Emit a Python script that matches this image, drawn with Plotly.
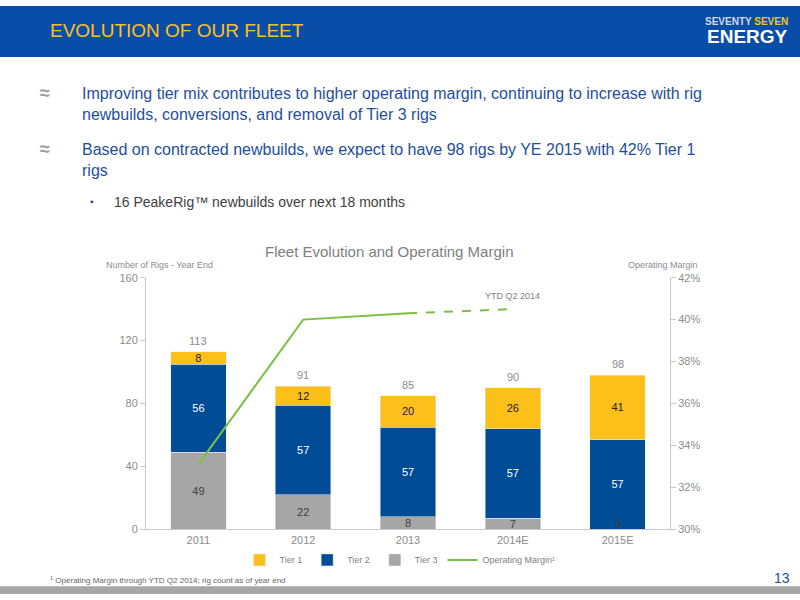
import plotly.graph_objects as go

years = ["2011", "2012", "2013", "2014E", "2015E"]
tier1 = [8, 12, 20, 26, 41]
tier2 = [56, 57, 57, 57, 57]
tier3 = [49, 22, 8, 7, 0]
totals = [113, 91, 85, 90, 98]
margin_years = ["2011", "2012", "2013"]
margin_vals = [33.1, 40.0, 40.3]
ytd_years = ["2013", "2014E"]
ytd_vals = [40.3, 40.5]
margin_ticks = [30, 32, 34, 36, 38, 40, 42]

YEL = "#FDC01B"; BLU = "#004C97"; GRY = "#A6A6A6"; GRN = "#7AC143"
FONT = "Liberation Sans Narrow, Liberation Sans, Arial"

fig = go.Figure()
common = dict(textposition="inside", insidetextanchor="middle", textangle=0,
              constraintext="none", width=0.53)
fig.add_bar(x=years, y=tier3, name="Tier 3", marker_color=GRY, legendrank=3,
            text=[str(v) if v else "" for v in tier3], textfont=dict(color="#404040", size=11), **common)
fig.add_bar(x=years, y=tier2, name="Tier 2", marker_color=BLU, legendrank=2,
            text=tier2, textfont=dict(color="white", size=11), **common)
fig.add_bar(x=years, y=tier1, name="Tier 1", marker_color=YEL, legendrank=1,
            text=tier1, textfont=dict(color="#222", size=11), **common)
fig.add_scatter(x=margin_years, y=margin_vals, yaxis="y2", mode="lines", name="Operating Margin¹",
                line=dict(color=GRN, width=2), legendrank=4)
fig.add_scatter(x=ytd_years, y=ytd_vals, yaxis="y2", mode="lines", showlegend=False,
                line=dict(color=GRN, width=2, dash="dash"))

for i, t in enumerate(totals):
    fig.add_annotation(x=i, y=t, text=str(t), showarrow=False, yshift=11,
                       font=dict(color="#8c8c8c", size=11))
for i, v in enumerate(tier3):
    if v == 0:
        fig.add_annotation(x=i, y=0, text="0", showarrow=False, yshift=5,
                           font=dict(color="#404040", size=11))
fig.add_annotation(x=years.index(ytd_years[-1]), y=ytd_vals[-1], yref="y2", text="YTD Q2 2014",
                   showarrow=False, yshift=13, font=dict(color="#808080", size=9))

fig.update_layout(
    width=800, height=600, margin=dict(l=0, r=0, t=0, b=0),
    plot_bgcolor="white", paper_bgcolor="white", barmode="stack",
    font=dict(family=FONT, color="#8c8c8c", size=11),
    xaxis=dict(type="category", range=[-0.5, len(years) - 0.5], domain=[0.1825, 0.8375],
               showline=True, linecolor="#c8c8c8", ticks="", tickfont=dict(size=11)),
    yaxis=dict(range=[0, 160], tickvals=[0, 40, 80, 120, 160], showgrid=False, showline=True,
               linecolor="#c8c8c8", ticks="outside", tickcolor="#c8c8c8", ticklen=5,
               domain=[0.11, 0.538], zeroline=False),
    yaxis2=dict(range=[30, 42], tickvals=margin_ticks, ticktext=[f"{v}%" for v in margin_ticks],
                overlaying="y", side="right", showgrid=False, showline=True, linecolor="#c8c8c8",
                ticks="outside", tickcolor="#c8c8c8", ticklen=5, zeroline=False),
    legend=dict(orientation="h", x=0.5, xanchor="center", y=0.058, yanchor="middle",
                font=dict(size=9, color="#808080"), traceorder="normal"),
    shapes=[
        dict(type="rect", xref="paper", yref="paper", x0=0, x1=1, y0=1 - 52 / 600, y1=1,
             fillcolor="#0A4DA8", line_width=0, layer="below"),
        dict(type="rect", xref="paper", yref="paper", x0=0, x1=1, y0=0, y1=8 / 600,
             fillcolor="#A6A6A6", line_width=0, layer="below"),
    ],
)

def ann(x, y, text, size, color, xanchor="left", **kw):
    fig.add_annotation(xref="paper", yref="paper", x=x / 800, y=1 - y / 600, text=text, showarrow=False,
                       xanchor=xanchor, yanchor="middle", font=dict(size=size, color=color, **kw), align="left")

ann(48, 25, "EVOLUTION OF OUR FLEET", 19, "#FDC01B", family="Liberation Sans Narrow, Arial")
ann(790, 16, "<b>SEVENTY <span style='color:#FDC01B'>SEVEN</span></b>", 10, "#D0D8E8", xanchor="right")
ann(790, 31, "<b>ENERGY</b>", 19, "white", xanchor="right")
ann(38, 89, "<b>≈</b>", 18, "#999999")
ann(80, 100, "Improving tier mix contributes to higher operating margin, continuing to increase with rig<br>newbuilds, conversions, and removal of Tier 3 rigs", 16, "#1F4E9E")
ann(38, 146, "<b>≈</b>", 18, "#999999")
ann(80, 157, "Based on contracted newbuilds, we expect to have 98 rigs by YE 2015 with 42% Tier 1<br>rigs", 16, "#1F4E9E")
ann(88, 200, "▪", 10, "#1F4E9E")
ann(112, 200, "16 PeakeRig™ newbuilds over next 18 months", 14, "#404040")
ann(389, 250, "Fleet Evolution and Operating Margin", 15, "#808080", xanchor="center")
ann(104, 264, "Number of Rigs - Year End", 9, "#8c8c8c")
ann(700, 264, "Operating Margin", 9, "#8c8c8c", xanchor="right")
ann(48, 586, "<sup>1</sup> Operating Margin through YTD Q2 2014; rig count as of year end", 8, "#666666")
ann(792, 584, "13", 14, "#1F4E9E", xanchor="right")

js = ("var s='margin:0;padding:0;height:600px;overflow:hidden';"
      "document.documentElement.style.cssText=s;document.body.style.cssText=s;")
fig.write_html("out.html", config={"displayModeBar": False}, post_script=js)
